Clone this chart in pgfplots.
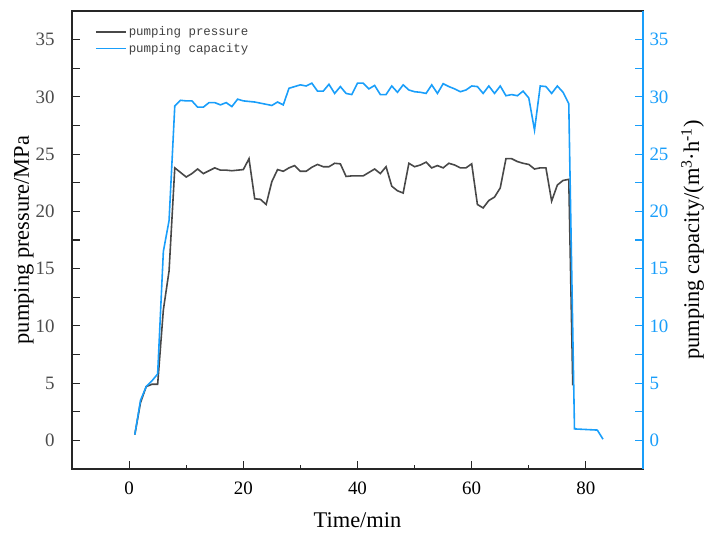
\documentclass[border=0pt]{standalone}
\usepackage{pgfplots}
\pgfplotsset{compat=1.18}
\usepackage{fontspec}
\setmainfont{Liberation Serif}
\newfontfamily\legfont{Liberation Mono}
\definecolor{capblue}{RGB}{25,158,250}
\definecolor{presgray}{RGB}{72,72,72}

\pgfplotstableread{
t p
1 0.5
2 3.3
3 4.7
4 4.9
5 4.9
6 11.4
7 14.8
8 23.8
9 23.4
10 23.0
11 23.3
12 23.7
13 23.3
14 23.55
15 23.8
16 23.6
17 23.6
18 23.55
19 23.6
20 23.65
21 24.6
22 21.1
23 21.05
24 20.6
25 22.6
26 23.65
27 23.5
28 23.8
29 24.0
30 23.5
31 23.5
32 23.85
33 24.1
34 23.9
35 23.9
36 24.2
37 24.15
38 23.05
39 23.1
40 23.1
41 23.1
42 23.4
43 23.7
44 23.3
45 23.9
46 22.2
47 21.8
48 21.6
49 24.2
50 23.9
51 24.05
52 24.3
53 23.8
54 24.0
55 23.8
56 24.2
57 24.05
58 23.8
59 23.8
60 24.15
61 20.6
62 20.3
63 20.95
64 21.25
65 22.05
66 24.6
67 24.6
68 24.35
69 24.2
70 24.1
71 23.7
72 23.8
73 23.8
74 20.9
75 22.3
76 22.7
77 22.8
77.7 4.8
}\pressure

\pgfplotstableread{
t q
1 0.5
2 3.5
3 4.7
4 5.2
5 5.8
6 16.5
7 19.2
8 29.2
9 29.7
10 29.65
11 29.65
12 29.1
13 29.1
14 29.5
15 29.5
16 29.3
17 29.5
18 29.15
19 29.8
20 29.65
21 29.6
22 29.55
23 29.45
24 29.35
25 29.25
26 29.55
27 29.3
28 30.75
29 30.9
30 31.05
31 30.95
32 31.2
33 30.5
34 30.5
35 31.1
36 30.3
37 30.9
38 30.3
39 30.2
40 31.2
41 31.2
42 30.7
43 31.0
44 30.2
45 30.2
46 30.95
47 30.4
48 31.05
49 30.6
50 30.45
51 30.4
52 30.3
53 31.05
54 30.3
55 31.15
56 30.9
57 30.7
58 30.45
59 30.6
60 30.95
61 30.9
62 30.3
63 30.95
64 30.3
65 30.95
66 30.1
67 30.2
68 30.1
69 30.5
70 29.9
71 27.1
72 30.95
73 30.9
74 30.3
75 30.95
76 30.4
77 29.4
78 1.0
82 0.9
83 0.1
}\capacity

\begin{document}
\begin{tikzpicture}
\begin{axis}[
  scale only axis, width=571bp, height=458bp,
  xmin=-10, xmax=90, ymin=-2.5, ymax=37.5,
  xtick={0,20,...,80}, minor xtick={10,30,50,70},
  ytick={0,5,...,35},
  extra y ticks={2.5,7.5,...,32.5}, extra y tick labels={},
  tick align=inside, tick pos=left,
  major tick length=8bp, minor tick length=4bp,
  every tick/.style={black!85, line width=1.1pt},
  axis line style={black!85, line width=1.3pt},
  /pgf/number format/assume math mode=true,
  xticklabel style={font=\fontsize{19}{19}\selectfont, yshift=-9bp},
  yticklabel style={font=\fontsize{19}{19}\selectfont, text=black!70, xshift=-14bp},
  xlabel={Time/min}, ylabel={pumping pressure/MPa},
  label style={font=\fontsize{22.5}{22.5}\selectfont},
  xlabel style={yshift=-12bp},
  ylabel style={yshift=-5bp},
  legend cell align=left,
  legend style={at={(rel axis cs:0.035,0.975)}, anchor=north west, draw=none, fill=none,
    font=\legfont\fontsize{12.5}{14}\selectfont, text=black!75, row sep=2bp},
  legend image code/.code={\draw[#1] (0bp,0bp) -- (30bp,0bp);},
]
\coordinate (sw) at (rel axis cs:0,0);
\addplot[presgray, line width=1.6pt] table[x=t, y=p] {\pressure};
\addlegendentry{pumping pressure}
\addlegendimage{capblue, line width=1.6pt}
\addlegendentry{pumping capacity}
\end{axis}
\begin{axis}[
  scale only axis, width=571bp, height=458bp,
  xmin=-10, xmax=90, ymin=-2.5, ymax=37.5,
  axis x line=none, axis y line*=right,
  y axis line style={-, draw=capblue, line width=1.7pt},
  ytick={0,5,...,35},
  extra y ticks={2.5,7.5,...,32.5}, extra y tick labels={},
  tick align=inside,
  major tick length=8bp,
  every tick/.style={capblue, line width=1.1pt},
  /pgf/number format/assume math mode=true,
  yticklabel style={font=\fontsize{19}{19}\selectfont, text=capblue, xshift=3bp},
  ylabel={pumping capacity/(m\textsuperscript{3}·h\textsuperscript{-1})},
  ylabel style={font=\fontsize{22.5}{22.5}\selectfont, yshift=-6bp},
]
\addplot[capblue, line width=1.6pt] table[x=t, y=q] {\capacity};
\end{axis}
\pgfresetboundingbox
\path[use as bounding box] (sw) ++(-72bp,-66bp) rectangle ++(706bp,535bp);
\end{tikzpicture}
\end{document}
